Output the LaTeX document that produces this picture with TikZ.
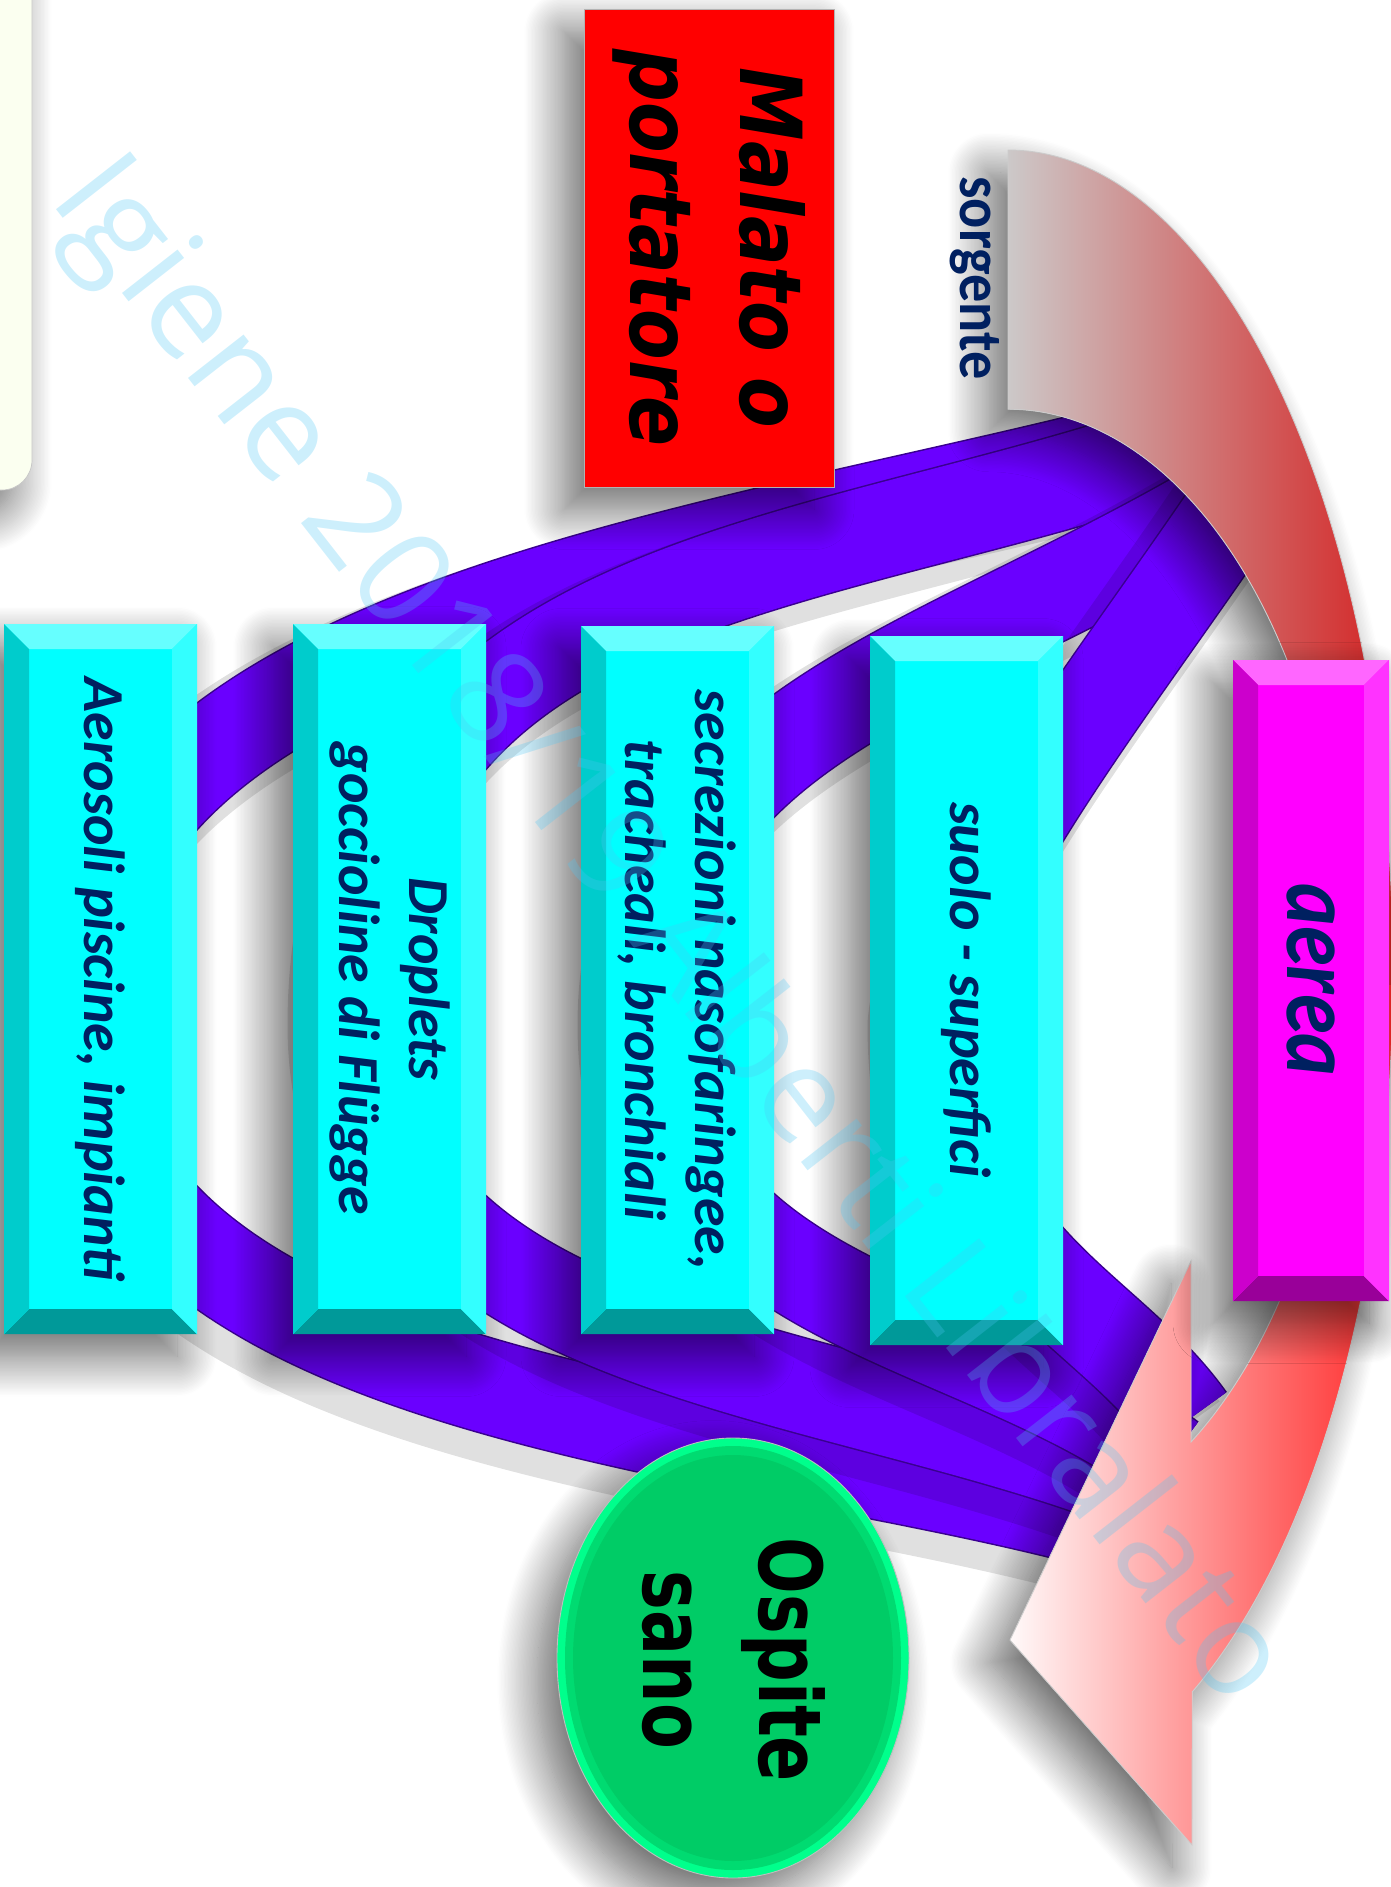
\documentclass[tikz,border=0pt]{standalone}
\usepackage{fontspec}
\setmainfont{Carlito}
\newfontfamily\verdana{DejaVu Sans}[BoldFont={DejaVu Sans Bold},ItalicFont={DejaVu Sans Oblique},BoldItalicFont={DejaVu Sans Bold Oblique}]
\newfontfamily\wmfont{Open Sans}
\usetikzlibrary{shadows.blur}

\definecolor{navy}{HTML}{002060}
\definecolor{band}{HTML}{6A00FF}
\definecolor{bandline}{HTML}{3A0090}
\definecolor{cyface}{HTML}{00FFFF}
\definecolor{cytop}{HTML}{66FFFF}
\definecolor{cyright}{HTML}{33FFFF}
\definecolor{cyleft}{HTML}{00CCCC}
\definecolor{cybottom}{HTML}{009999}
\definecolor{mgface}{HTML}{FF00FF}
\definecolor{mgtop}{HTML}{FF66FF}
\definecolor{mgright}{HTML}{FF33FF}
\definecolor{mgleft}{HTML}{CC00CC}
\definecolor{mgbottom}{HTML}{990099}
\definecolor{arrowgrey}{HTML}{CCCCCC}
\definecolor{arrowmid}{HTML}{CAA6A6}
\definecolor{arrowred}{HTML}{D42424}
\definecolor{headpink}{HTML}{FFC4C4}
\definecolor{headred}{HTML}{FF2A2A}
\definecolor{ospgreen}{HTML}{00CC66}
\definecolor{osprim}{HTML}{00FF8C}
\definecolor{leftpale}{HTML}{FBFFF0}

\tikzset{
  shadowed/.style={blur shadow={shadow xshift=-0.4cm, shadow yshift=-0.45cm,
      shadow blur radius=0.8cm, shadow blur steps=30, shadow opacity=60}},
  boxtext/.style={rotate=-90, text=navy, align=center,
      font=\fontsize{33}{40}\selectfont\bfseries\itshape},
  bandshadow/.style={line width=2.3cm, black, opacity=0.12},
  bandedge/.style={line width=1.92cm, bandline},
  bandfill/.style={line width=1.86cm, band},
}

% scatola con smusso
\newcommand{\bevelbox}[5]{%
  \fill[shadowed,#5face] (#1,#2) rectangle (#3,#4);
  \fill[#5top] (#1,#2) -- (#3,#2) -- (#3-25,#2+25) -- (#1+25,#2+25) -- cycle;
  \fill[#5bottom] (#1,#4) -- (#3,#4) -- (#3-25,#4-25) -- (#1+25,#4-25) -- cycle;
  \fill[#5left] (#1,#2) -- (#1+25,#2+25) -- (#1+25,#4-25) -- (#1,#4) -- cycle;
  \fill[#5right] (#3,#2) -- (#3-25,#2+25) -- (#3-25,#4-25) -- (#3,#4) -- cycle;
}

% freccia curva sorgente
\newcommand{\srcarrow}{(1008,150) arc[start angle=-90, end angle=61.4, x radius=385, y radius=821]
  -- (1192,1845) -- (1010,1640) -- (1191,1261) -- (1191,1442)
  arc[start angle=56.9, end angle=-90, x radius=335, y radius=562] -- cycle}

\begin{document}
\begin{tikzpicture}[x=0.02cm, y=-0.02cm]
\useasboundingbox (0,0) rectangle (1391,1887);
\clip (0,0) rectangle (1391,1887);

% pannello al bordo sinistro
\draw[gray!45, fill=leftpale, rounded corners=0.6cm, shadowed] (-200,-100) rectangle (32,490);

% bande viola: partenza, controlli, vertice, controlli, arrivo
\coordinate (s1) at (1200,431); \coordinate (ua1) at (750,557); \coordinate (ub1) at (80,610);
\coordinate (ap1) at (80,1010); \coordinate (la1) at (80,1410); \coordinate (lb1) at (746,1418); \coordinate (e1) at (1130,1530);
\coordinate (s2) at (1215,433); \coordinate (ua2) at (841,574); \coordinate (ub2) at (360,560);
\coordinate (ap2) at (360,1010); \coordinate (la2) at (360,1360); \coordinate (lb2) at (825,1360); \coordinate (e2) at (1150,1490);
\coordinate (s3) at (1245,490); \coordinate (ua3) at (947,672); \coordinate (ub3) at (650,720);
\coordinate (ap3) at (650,1010); \coordinate (la3) at (650,1310); \coordinate (lb3) at (970,1310); \coordinate (e3) at (1170,1460);
\coordinate (s4) at (1262,465); \coordinate (ua4) at (1150,640); \coordinate (ub4) at (950,880);
\coordinate (ap4) at (940,1010); \coordinate (la4) at (940,1260); \coordinate (lb4) at (1101,1298); \coordinate (e4) at (1188,1420);
\foreach \i in {1,...,4}{
  \begin{scope}[transform canvas={shift={(-0.3cm,-0.3cm)}}]
    \draw[bandshadow] (s\i) .. controls (ua\i) and (ub\i) .. (ap\i) .. controls (la\i) and (lb\i) .. (e\i);
  \end{scope}
  \draw[bandedge] (s\i) .. controls (ua\i) and (ub\i) .. (ap\i) .. controls (la\i) and (lb\i) .. (e\i);
  \draw[bandfill] (s\i) .. controls (ua\i) and (ub\i) .. (ap\i) .. controls (la\i) and (lb\i) .. (e\i);
}

% malato o portatore
\fill[shadowed, red] (584,9) rectangle (834,487);
\draw[gray!60] (584,9) rectangle (834,487);
\node[rotate=-90, yscale=1.16, align=center,
  font={\verdana\fontsize{42}{54}\selectfont\bfseries\itshape}] (malato) at (709,248) {Malato o\\portatore};

% freccia
\fill[shadowed, white] \srcarrow;
\begin{scope}
  \clip \srcarrow;
  \shade[left color=arrowgrey, middle color=arrowmid, right color=arrowred] (1000,100) rectangle (1391,985);
  \shade[left color=white, middle color=headpink, right color=headred] (1000,985) rectangle (1391,1887);
\end{scope}
\draw[gray!40, line width=0.5pt] \srcarrow;
\node[rotate=-90, yscale=1.1, text=navy,
  font={\fontsize{32}{38}\selectfont\bfseries}] (sorgente) at (975,278) {sorgente};

% vie di trasmissione
\bevelbox{4}{624}{197}{1334}{cy}
\bevelbox{293}{624}{486}{1334}{cy}
\bevelbox{581}{626}{774}{1334}{cy}
\bevelbox{870}{636}{1063}{1345}{cy}
\bevelbox{1233}{660}{1389}{1301}{mg}
\node[boxtext] (aerosoli) at (100,979) {Aerosoli piscine, impianti};
\node[boxtext] (droplets) at (390,979) {Droplets\\goccioline di Flügge};
\node[boxtext] (secrezioni) at (677,980) {secrezioni nasofaringee,\\tracheali, bronchiali};
\node[boxtext] (suolo) at (966,990) {suolo - superfici};
\node[boxtext, yscale=1.2, font=\fontsize{46}{50}\selectfont\bfseries\itshape] (aerea) at (1311,980) {aerea};

% ospite sano
\fill[shadowed, osprim] (733,1658) ellipse [x radius=176, y radius=220];
\fill[ospgreen!70!osprim] (733,1658) ellipse [x radius=168, y radius=212];
\fill[ospgreen] (733,1658) ellipse [x radius=160, y radius=203];
\draw[gray!50, line width=0.5pt] (733,1658) ellipse [x radius=176, y radius=220];
\node[rotate=-90, yscale=1.3, align=center,
  font={\verdana\fontsize{38}{50.7}\selectfont\bfseries}] (ospite) at (734,1660) {Ospite\\sano};

% filigrana
\node[rotate=-52, text=cyan!70, text opacity=0.28,
  font={\wmfont\fontsize{75}{75}\selectfont}] (filigrana) at (666,934) {Igiene 2018/19 Alberti Libralato};
\end{tikzpicture}
\end{document}
